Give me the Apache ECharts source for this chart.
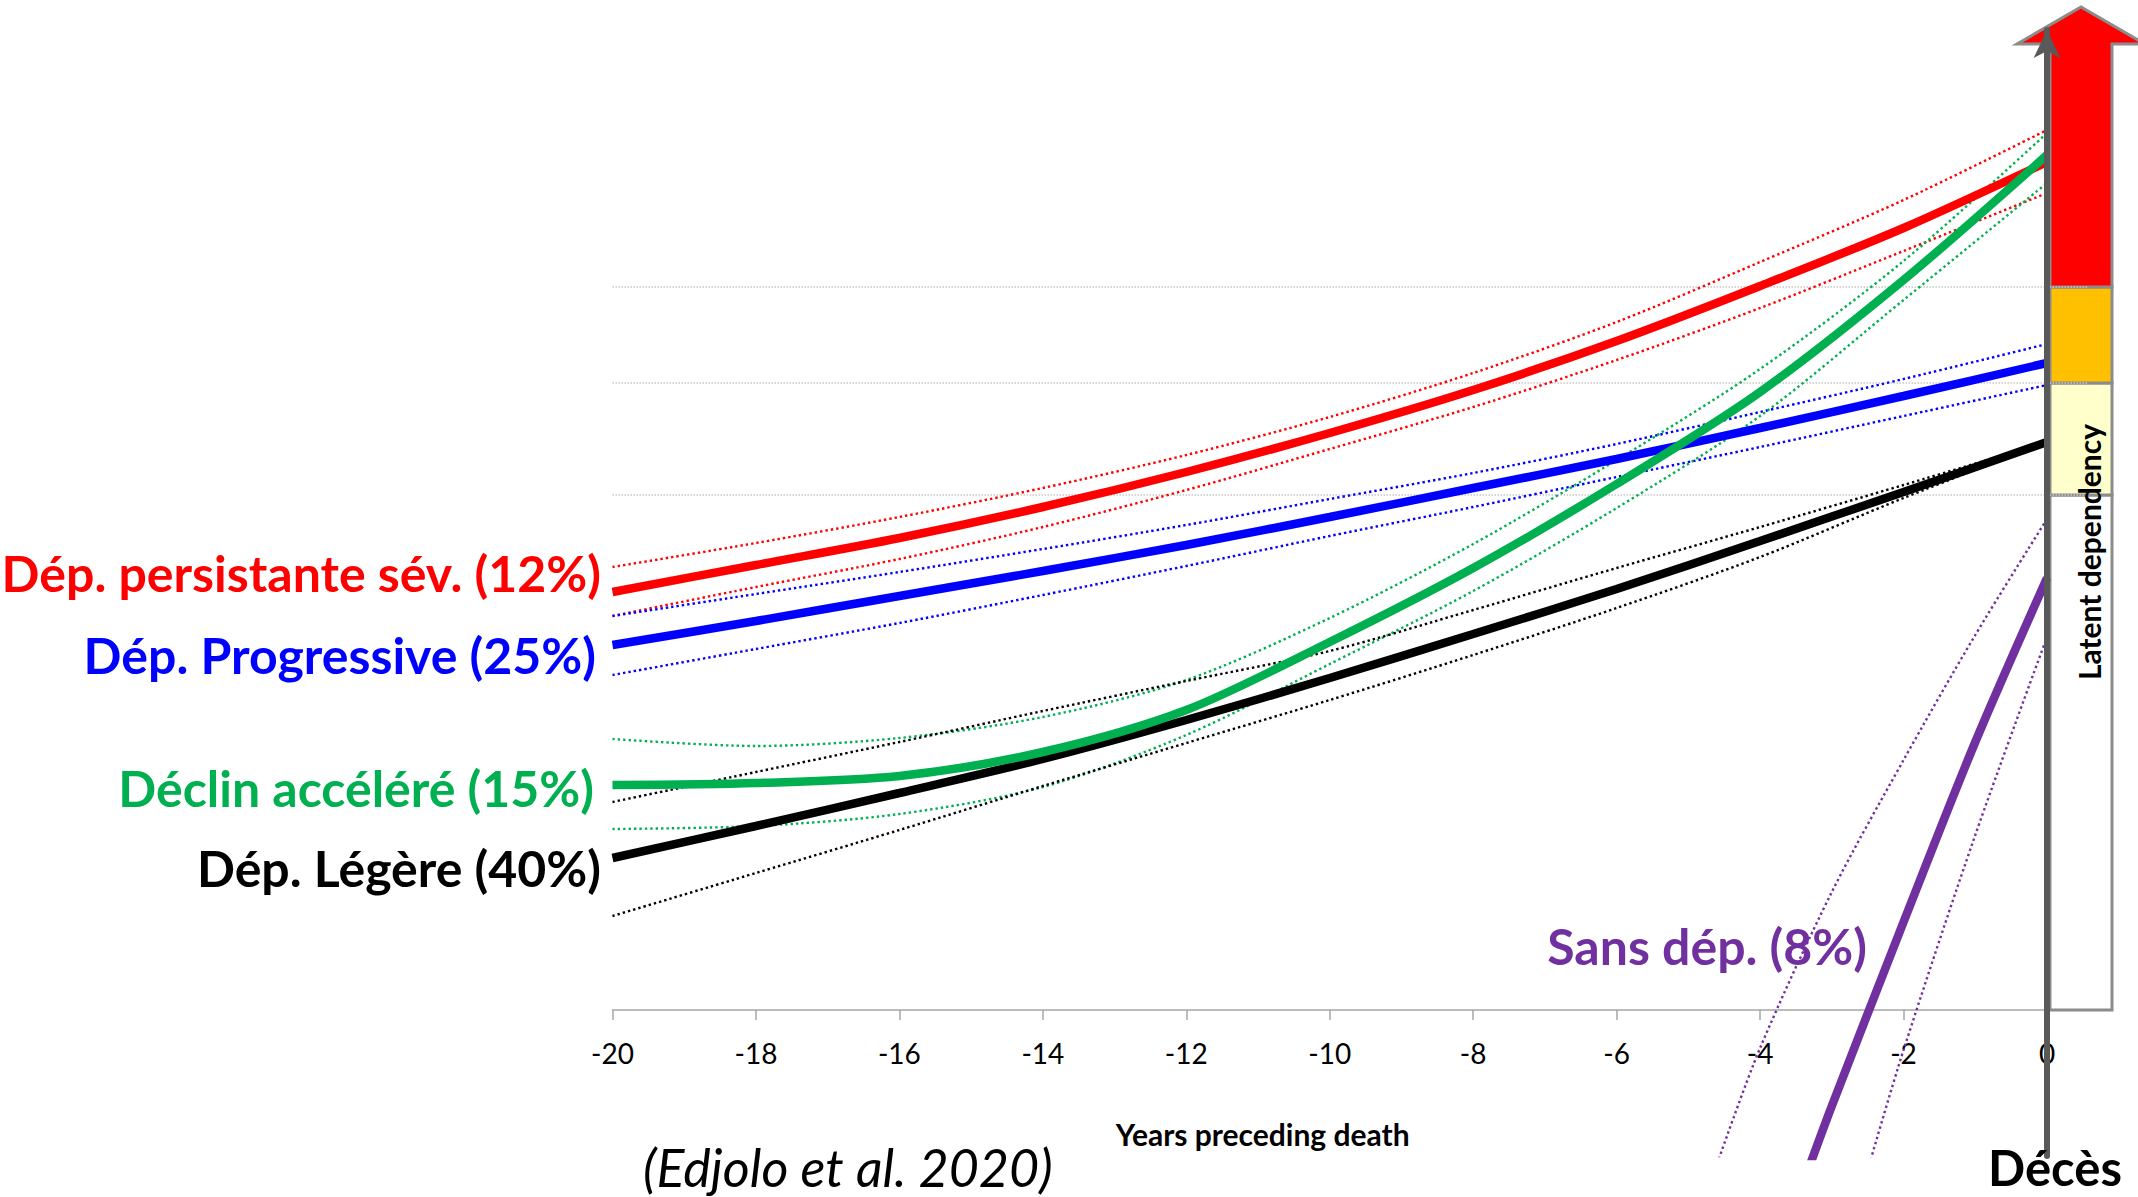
<!DOCTYPE html>
<html><head><meta charset="utf-8">
<script src="https://cdn.jsdelivr.net/npm/echarts@6/dist/echarts.min.js"></script>
<style>html,body{margin:0;padding:0;background:#fff}#c{width:2138px;height:1197px}</style>
</head><body><div id="c"></div>
<script>
// ---- data (latent dependency score, arbitrary units) ----
const years = [-20, -18, -16, -14, -12, -10, -8, -6, -4, -2, 0];

const severeMid = [41.8, 44.5, 47.2, 50.3, 53.8, 57.7, 62.0, 66.9, 72.4, 78.2, 84.8];
const severeHi  = [44.3, 46.7, 49.3, 52.2, 55.5, 59.3, 63.7, 68.8, 74.8, 81.0, 88.0];
const severeLo  = [39.4, 42.3, 45.1, 48.3, 52.0, 56.1, 60.3, 65.0, 70.2, 75.9, 81.7];

const progMid = [36.5, 38.9, 41.4, 43.9, 46.5, 49.3, 52.2, 55.1, 58.2, 61.4, 64.7];
const progHi  = [39.4, 41.6, 43.8, 46.1, 48.5, 51.1, 53.7, 56.6, 59.8, 63.1, 66.6];
const progLo  = [33.5, 36.1, 38.7, 41.5, 44.4, 47.4, 50.3, 53.3, 56.3, 59.4, 62.5];

const accelMid = [22.5, 22.7, 23.4, 25.8, 30.0, 36.8, 44.2, 52.6, 61.8, 73.0, 85.5];
const accelHi  = [27.1, 26.4, 27.2, 29.3, 33.0, 39.2, 46.6, 55.0, 64.1, 74.9, 87.7];
const accelLo  = [18.1, 18.4, 19.6, 22.3, 27.5, 34.6, 41.9, 50.2, 59.4, 71.0, 82.7];

const mildMid = [15.2, 18.4, 21.7, 25.1, 29.0, 33.2, 37.6, 42.1, 46.9, 51.8, 56.8];
const mildHi  = [20.8, 23.8, 26.8, 29.9, 32.9, 35.9, 40.0, 44.2, 48.3, 52.5, 56.8];
const mildLo  = [9.4, 13.7, 18.0, 22.4, 26.7, 31.0, 35.5, 40.2, 45.3, 51.2, 56.8];

const noneYearsMid = [-3.3, -3, -2, -1, 0];
const noneMid      = [-15.4, -9.6, 8.8, 26.8, 43.2];
const noneYearsHi  = [-4.6, -4, -3, -2, -1, 0];
const noneHi       = [-15.4, -3.8, 11.8, 25.0, 37.5, 49.1];
const noneYearsLo  = [-2.5, -2, -1, 0];
const noneLo       = [-16.0, -4.0, 17.5, 37.3];

const thresholds = [51.5, 62.7, 72.3];      // latent dependency level limits
const arrowBase = 96.6, arrowTip = 100.3;  // top of the red "severe" zone / arrow
const xTickStep = 2;

const groupNames = ['Dép. persistante sév. (12%)', 'Dép. Progressive (25%)',
                    'Déclin accéléré (15%)', 'Dép. Légère (40%)', 'Sans dép. (8%)'];

// ---- build ----
const pair = (xs, ys) => xs.map((x, i) => [x, ys[i]]);
const FONT = 'Lato, "Open Sans", sans-serif';
const colors = {severe: '#ff0000', prog: '#0000ff', accel: '#00b050', mild: '#000000', none: '#7030a0'};

function solid(name, data, color) {
  return {type: 'line', name, data, smooth: 0.3, showSymbol: false, symbol: 'none',
          lineStyle: {color, width: 8.5}, z: 4, silent: true, animation: false};
}
function dotted(data, color) {
  return {type: 'line', data, smooth: 0.3, showSymbol: false, symbol: 'none',
          lineStyle: {color, width: 2.4, type: [2.4, 3]}, z: 3, silent: true, animation: false};
}

const boxColors = ['#ffffff', '#ffffcc', '#ffc000', '#ff0000'];
const levels = [0].concat(thresholds, [arrowBase]);
const boxData = boxColors.map((c, i) => [0, levels[i], levels[i + 1], i]);

const yMin = -14.6, yMax = 98;
const gridTop = 30, gridBottom = 41;
const plotH = 1197 - gridTop - gridBottom;
const zeroOffset = -plotH * (0 - yMin) / (yMax - yMin); // lift x axis to value 0

const chart = echarts.init(document.getElementById('c'), null, {renderer: 'svg'});
chart.setOption({
  animation: false,
  backgroundColor: '#ffffff',
  grid: {left: 612.5, right: 91, top: gridTop, bottom: gridBottom, containLabel: false, outerBoundsMode: 'none'},
  xAxis: {
    type: 'value', min: -20, max: 0, interval: xTickStep, position: 'bottom', offset: zeroOffset,
    axisLine: {onZero: false, lineStyle: {color: '#a6a6a6', width: 1.5}},
    axisTick: {show: true, length: 10, lineStyle: {color: '#a6a6a6', width: 1.5}},
    axisLabel: {color: '#000', fontSize: 28, fontFamily: FONT, margin: 29},
    splitLine: {show: false},
    name: 'Years preceding death', nameLocation: 'middle', nameGap: 109,
    nameTextStyle: {color: '#000', fontSize: 30, fontWeight: 'bold', fontFamily: FONT, padding: [0, 134, 0, 0]}
  },
  yAxis: {
    type: 'value', min: yMin, max: yMax, position: 'right', z: 10,
    axisLine: {show: true, onZero: false, symbol: ['none', 'arrow'], symbolSize: [20, 28],
               lineStyle: {color: '#595959', width: 6}},
    axisTick: {show: false}, axisLabel: {show: false}, splitLine: {show: false}
  },
  series: [
    {type: 'custom', coordinateSystem: 'cartesian2d', data: boxData, encode: {x: 0, y: [1, 2]},
     clip: false, z: 1, silent: true,
     renderItem(params, api) {
       const lo = api.value(1), hi = api.value(2), idx = api.value(3);
       const a = api.coord([0, lo]), b = api.coord([0, hi]);
       const x0 = a[0] + 3, w = 62;
       if (idx < 3) {
         return {type: 'rect', shape: {x: x0, y: b[1], width: w, height: a[1] - b[1]},
                 style: {fill: boxColors[idx], stroke: '#8c8c8c', lineWidth: 3}};
       }
       const t = api.coord([0, arrowTip]);
       const cx = x0 + w / 2;
       return {type: 'polygon', shape: {points: [[x0, a[1]], [x0, b[1]], [cx - 64, b[1]], [cx, t[1]],
               [cx + 64, b[1]], [x0 + w, b[1]], [x0 + w, a[1]]]},
               style: {fill: boxColors[idx], stroke: '#8c8c8c', lineWidth: 3}};
     }},
    {type: 'custom', coordinateSystem: 'cartesian2d', data: thresholds.map(v => [-20, v]), encode: {x: 0, y: 1},
     clip: false, z: 2, silent: true,
     renderItem(params, api) {
       const v = api.value(1);
       const a = api.coord([-20, v]), b = api.coord([0, v]);
       return {type: 'line', shape: {x1: a[0], y1: a[1], x2: b[0] + 40, y2: b[1]},
               style: {stroke: '#c8c8c8', lineWidth: 1.5, lineDash: [1.5, 1.5]}};
     }},
    dotted(pair(years, severeHi), colors.severe), dotted(pair(years, severeLo), colors.severe),
    dotted(pair(years, progHi), colors.prog), dotted(pair(years, progLo), colors.prog),
    dotted(pair(years, accelHi), colors.accel), dotted(pair(years, accelLo), colors.accel),
    dotted(pair(years, mildHi), colors.mild), dotted(pair(years, mildLo), colors.mild),
    dotted(pair(noneYearsHi, noneHi), colors.none), dotted(pair(noneYearsLo, noneLo), colors.none),
    solid(groupNames[3], pair(years, mildMid), colors.mild),
    solid(groupNames[1], pair(years, progMid), colors.prog),
    solid(groupNames[0], pair(years, severeMid), colors.severe),
    solid(groupNames[2], pair(years, accelMid), colors.accel),
    solid(groupNames[4], pair(noneYearsMid, noneMid), colors.none)
  ],
  graphic: [
    {type: 'text', x: 601, y: 573, z: 100, style: {text: groupNames[0], fill: colors.severe, font: 'bold 50px ' + FONT, textAlign: 'right', textVerticalAlign: 'middle'}},
    {type: 'text', x: 596, y: 655, z: 100, style: {text: groupNames[1], fill: colors.prog, font: 'bold 50px ' + FONT, textAlign: 'right', textVerticalAlign: 'middle'}},
    {type: 'text', x: 594, y: 788, z: 100, style: {text: groupNames[2], fill: colors.accel, font: 'bold 50px ' + FONT, textAlign: 'right', textVerticalAlign: 'middle'}},
    {type: 'text', x: 601, y: 868, z: 100, style: {text: groupNames[3], fill: colors.mild, font: 'bold 50px ' + FONT, textAlign: 'right', textVerticalAlign: 'middle'}},
    {type: 'text', x: 1867, y: 946, z: 100, style: {text: groupNames[4], fill: colors.none, font: 'bold 50px ' + FONT, textAlign: 'right', textVerticalAlign: 'middle'}},
    {type: 'text', x: 2089, y: 552, rotation: Math.PI / 2, z: 100, style: {text: 'Latent dependency', fill: '#000', font: 'bold 30px ' + FONT, textAlign: 'center', textVerticalAlign: 'middle'}},
    {type: 'text', x: 643, y: 1167, z: 100, style: {text: '(Edjolo et al. 2020)', fill: '#000', font: 'italic 52px ' + FONT, textAlign: 'left', textVerticalAlign: 'middle'}},
    {type: 'text', x: 2055, y: 1167, z: 100, style: {text: 'Décès', fill: '#000', font: 'bold 49px ' + FONT, textAlign: 'center', textVerticalAlign: 'middle'}}
  ]
});
</script></body></html>
